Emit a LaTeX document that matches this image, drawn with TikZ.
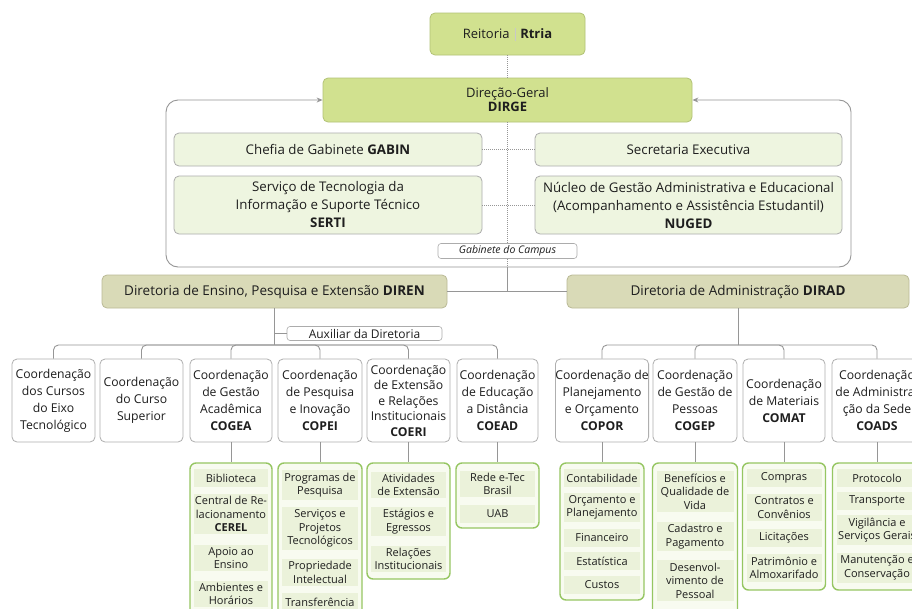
\documentclass[tikz,border=0pt]{standalone}
\usepackage{fontspec}
\setmainfont{Open Sans}
\usetikzlibrary{arrows.meta}
\definecolor{txt}{RGB}{30,30,30}
\definecolor{limefill}{RGB}{209,225,143}
\definecolor{limedraw}{RGB}{178,194,118}
\definecolor{palefill}{RGB}{238,245,224}
\definecolor{paledraw}{RGB}{172,172,172}
\definecolor{khakifill}{RGB}{217,218,183}
\definecolor{khakidraw}{RGB}{186,186,150}
\definecolor{coorddraw}{RGB}{175,175,175}
\definecolor{linegray}{RGB}{150,150,150}
\definecolor{listdraw}{RGB}{150,198,98}
\definecolor{listfill}{RGB}{248,251,240}
\definecolor{cellfill}{RGB}{235,242,218}
\definecolor{sepgray}{RGB}{200,200,200}
\begin{document}
\begin{tikzpicture}[x=1pt,y=-1pt,
  every node/.style={text=txt},
  box/.style={rounded corners=5pt, align=center, inner sep=0pt, line width=0.8pt},
  topbox/.style={box, fill=limefill, draw=limedraw, font=\fontsize{13}{14}\selectfont},
  gabbox/.style={box, fill=palefill, draw=paledraw, font=\fontsize{13.3}{18}\selectfont},
  dirbox/.style={box, fill=khakifill, draw=khakidraw, font=\fontsize{13.5}{16}\selectfont},
  coordbox/.style={box, fill=white, draw=coorddraw, font=\fontsize{12.2}{17}\selectfont, minimum height=83},
  tagbox/.style={box, rounded corners=3pt, fill=white, draw=paledraw, line width=0.6pt},
  listbox/.style={rounded corners=6pt, fill=listfill, draw=listdraw, line width=1.4pt, inner sep=0pt},
  cell/.style={fill=cellfill, align=center, inner sep=0pt, inner ysep=2.5pt, font=\fontsize{11}{13.5}\selectfont, minimum height=18},
  conn/.style={draw=linegray, line width=0.9pt},
  dots/.style={draw=linegray, line width=0.9pt, dash pattern=on 0.8pt off 1.2pt}
]
\clip (0,0) rectangle (912,608);
\fill[white] (0,0) rectangle (912,608);

% top
\node[topbox, minimum width=155, minimum height=42] (reit) at (507.5,34)
  {Reitoria\hspace{5pt}{\color{sepgray}\rule[-2pt]{0.6pt}{13pt}}\hspace{5pt}\textbf{Rtria}};
\node[topbox, minimum width=369, minimum height=44] (dirge) at (507.5,100)
  {Direção-Geral\\\textbf{DIRGE}};

% gabinete
\node[gabbox, minimum width=308, minimum height=33] (chefia) at (328,149.5) {Chefia de Gabinete \textbf{GABIN}};
\node[gabbox, minimum width=307, minimum height=33] (secr) at (688.5,149.5) {Secretaria Executiva};
\node[gabbox, minimum width=308, minimum height=58] (serti) at (328,205)
  {Serviço de Tecnologia da\\Informação e Suporte Técnico\\\textbf{SERTI}};
\node[gabbox, minimum width=307, minimum height=58] (nuged) at (688.5,205)
  {Núcleo de Gestão Administrativa e Educacional\\(Acompanhamento e Assistência Estudantil)\\\textbf{NUGED}};
\node[tagbox, minimum width=139, minimum height=15, font=\fontsize{10.5}{12}\selectfont\itshape] (gab) at (507.5,251) {Gabinete do Campus};

\coordinate (fb) at (507.5,267);
\coordinate (jn) at (507.5,291.5);

% directorates
\node[dirbox, minimum width=345, minimum height=33] (diren) at (274.5,291.5)
  {Diretoria de Ensino, Pesquisa e Extensão \textbf{DIREN}};
\node[dirbox, minimum width=342, minimum height=33] (dirad) at (738,291.5)
  {Diretoria de Administração \textbf{DIRAD}};
\node[tagbox, minimum width=155, minimum height=14, font=\fontsize{12}{13}\selectfont] (aux) at (364.5,333.5) {Auxiliar da Diretoria};

\coordinate (auxj) at (274.5,333.5);
\coordinate (db) at (274.5,345);
\coordinate (ab) at (738,345);

% coordinations
\node[coordbox, minimum width=83] (c1) at (53.5,400.5) {Coordenação\\dos Cursos\\do Eixo\\Tecnológico};
\node[coordbox, minimum width=83] (c2) at (141.5,400.5) {Coordenação\\do Curso\\Superior};
\node[coordbox, minimum width=82] (c3) at (231,400.5) {Coordenação\\de Gestão\\Acadêmica\\\textbf{COGEA}};
\node[coordbox, minimum width=84] (c4) at (320,400.5) {Coordenação\\de Pesquisa\\e Inovação\\\textbf{COPEI}};
\node[coordbox, minimum width=83, font=\fontsize{12.2}{15.5}\selectfont] (c5) at (408.5,400.5) {Coordenação\\de Extensão\\e Relações\\Institucionais\\\textbf{COERI}};
\node[coordbox, minimum width=81] (c6) at (497.5,400.5) {Coordenação\\de Educação\\a Distância\\\textbf{COEAD}};
\node[coordbox, minimum width=92] (c7) at (602,400.5) {Coordenação de\\Planejamento\\e Orçamento\\\textbf{COPOR}};
\node[coordbox, minimum width=84] (c8) at (695,400.5) {Coordenação\\de Gestão de\\Pessoas\\\textbf{COGEP}};
\node[coordbox, minimum width=82] (c9) at (784,400.5) {Coordenação\\de Materiais\\\textbf{COMAT}};
\node[coordbox, minimum width=90] (c10) at (877,400.5) {Coordenação\\de Administra-\\ção da Sede\\\textbf{COADS}};

% list boxes
\node[listbox, minimum width=82, minimum height=162] (L3) at (231,544) {};
\node[listbox, minimum width=84, minimum height=162] (L4) at (320,544) {};
\node[listbox, minimum width=83, minimum height=116] (L5) at (408.5,521) {};
\node[listbox, minimum width=83, minimum height=65] (L6) at (497.5,495.5) {};
\node[listbox, minimum width=84, minimum height=137] (L7) at (602,531.5) {};
\node[listbox, minimum width=85, minimum height=162] (L8) at (695,544) {};
\node[listbox, minimum width=83, minimum height=127] (L9) at (784,526.5) {};
\node[listbox, minimum width=89, minimum height=127] (L10) at (877,526.5) {};

% cells COGEA
\node[cell, minimum width=74] (l3a) at (231,478) {Biblioteca};
\node[cell, minimum width=74] (l3b) at (231,514) {Central de Re-\\lacionamento\\\textbf{CEREL}};
\node[cell, minimum width=74] (l3c) at (231,558) {Apoio ao\\Ensino};
\node[cell, minimum width=74] (l3d) at (231,594) {Ambientes e\\Horários};
% COPEI
\node[cell, minimum width=76] (l4a) at (320,485) {Programas de\\Pesquisa};
\node[cell, minimum width=76] (l4b) at (320,528.5) {Serviços e\\Projetos\\Tecnológicos};
\node[cell, minimum width=76] (l4c) at (320,572.5) {Propriedade\\Intelectual};
\node[cell, minimum width=76] (l4d) at (320,602) {Transferência};
% COERI
\node[cell, minimum width=75] (l5a) at (408.5,485) {Atividades\\de Extensão};
\node[cell, minimum width=75] (l5b) at (408.5,521.5) {Estágios e\\Egressos};
\node[cell, minimum width=75] (l5c) at (408.5,559) {Relações\\Institucionais};
% COEAD
\node[cell, minimum width=75] (l6a) at (497.5,484) {Rede e-Tec\\Brasil};
\node[cell, minimum width=75] (l6b) at (497.5,514) {UAB};
% COPOR
\node[cell, minimum width=76] (l7a) at (602,478) {Contabilidade};
\node[cell, minimum width=76] (l7b) at (602,507.5) {Orçamento e\\Planejamento};
\node[cell, minimum width=76] (l7c) at (602,538) {Financeiro};
\node[cell, minimum width=76] (l7d) at (602,561) {Estatística};
\node[cell, minimum width=76] (l7e) at (602,585) {Custos};
% COGEP
\node[cell, minimum width=77] (l8a) at (695,491.5) {Benefícios e\\Qualidade de\\Vida};
\node[cell, minimum width=77] (l8b) at (695,536.5) {Cadastro e\\Pagamento};
\node[cell, minimum width=77] (l8c) at (695,580.5) {Desenvol-\\vimento de\\Pessoal};
% COMAT
\node[cell, minimum width=75] (l9a) at (784,478) {Compras};
\node[cell, minimum width=75] (l9b) at (784,507.5) {Contratos e\\Convênios};
\node[cell, minimum width=75] (l9c) at (784,538) {Licitações};
\node[cell, minimum width=75] (l9d) at (784,568) {Patrimônio e\\Almoxarifado};
% COADS
\node[cell, minimum width=81] (l10a) at (877,478) {Protocolo};
\node[cell, minimum width=81] (l10b) at (877,501) {Transporte};
\node[cell, minimum width=81] (l10c) at (877,530) {Vigilância e\\Serviços Gerais};
\node[cell, minimum width=81] (l10d) at (877,568) {Manutenção e\\Conservação};

% connectors
\draw[dots] (reit.south) -- (dirge.north);
\draw[conn, rounded corners=12pt, {Stealth[length=6pt,width=5pt]}-{Stealth[length=6pt,width=5pt]}] (dirge.west) -- (166,100) -- (166,267) -- (851,267) -- (851,100) -- (dirge.east);
\draw[dots] (dirge.south) -- (gab.north);
\draw[dots] (gab.south) -- (fb);
\draw[dots] (chefia.east) -- (secr.west);
\draw[dots] (serti.east) -- (nuged.west);
\draw[conn] (fb) -- (jn);
\draw[conn] (diren.east) -- (dirad.west);

\draw[conn] (diren.south) -- (db);
\draw[conn] (auxj) -- (aux.west);
\foreach \c in {c1,c2,c3,c4,c5,c6}
  \draw[conn, rounded corners=5pt] (db) -| (\c.north);
\draw[conn] (dirad.south) -- (ab);
\foreach \c in {c7,c8,c9,c10}
  \draw[conn, rounded corners=5pt] (ab) -| (\c.north);

\draw[conn] (c3.south) -- (L3.north);
\draw[conn] (c4.south) -- (L4.north);
\draw[conn] (c5.south) -- (L5.north);
\draw[conn] (c6.south) -- (L6.north);
\draw[conn] (c7.south) -- (L7.north);
\draw[conn] (c8.south) -- (L8.north);
\draw[conn] (c9.south) -- (L9.north);
\draw[conn] (c10.south) -- (L10.north);
\end{tikzpicture}
\end{document}
